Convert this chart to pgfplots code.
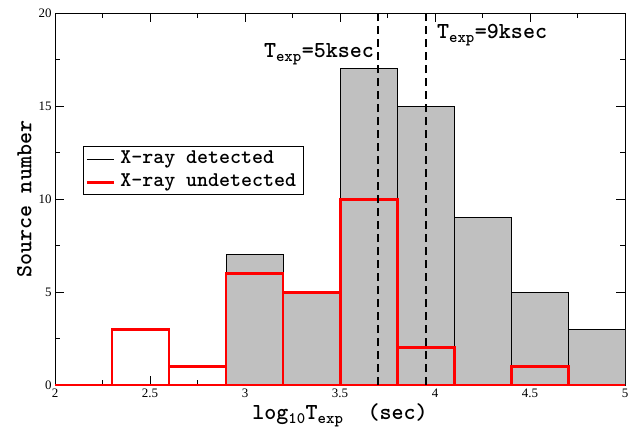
\documentclass[border=0pt]{standalone}
\usepackage{pgfplots}
\pgfplotsset{compat=1.18}
\usepackage{fontspec}
\setmainfont{Liberation Serif}
\definecolor{fillgray}{RGB}{192,192,192}
\definecolor{histred}{RGB}{255,0,0}
\newcommand{\labfont}{\ttfamily\bfseries\fontsize{23}{26}\selectfont}
\newcommand{\legfont}{\ttfamily\bfseries\fontsize{21}{24}\selectfont}

\begin{document}
\begin{tikzpicture}
\begin{axis}[
    scale only axis,
    width=570bp,
    height=372bp,
    xmin=2, xmax=5,
    ymin=0, ymax=20,
    xtick={2,2.5,3,3.5,4,4.5,5},
    ytick={0,5,10,15,20},
    minor x tick num=1,
    minor y tick num=1,
    tick align=inside,
    major tick length=9bp,
    minor tick length=5bp,
    tick style={black, line width=0.8pt},
    axis line style={line width=0.8pt},
    /pgf/number format/assume math mode=true,
    ticklabel style={font=\fontsize{13}{15}\selectfont},
    xlabel={log\textsubscript{10}T\textsubscript{exp}~~(sec)},
    ylabel={Source number},
    label style={font=\labfont},
    legend style={at={(rel axis cs:0.049,0.642)}, anchor=north west,
        draw=black, line width=0.8pt, inner xsep=2bp, inner ysep=1bp,
        nodes={text height=14bp, text depth=5bp, inner ysep=2bp, inner xsep=5bp},
        font=\legfont},
    legend cell align=left,
]
% X-ray detected
\addplot[ybar interval, fill=fillgray, draw=black, line width=1pt,
    legend image code/.code={\draw[black, line width=1pt] (0bp,0bp) -- (27bp,0bp);}]
    coordinates {(2.9,7) (3.2,5) (3.5,17) (3.8,15) (4.1,9) (4.4,5) (4.7,3) (5.0,0)};
\addlegendentry{X-ray detected}
% X-ray undetected
\addplot[ybar interval, fill=none, draw=histred, line width=3pt,
    legend image code/.code={\draw[histred, line width=3pt] (0bp,0bp) -- (27bp,0bp);}]
    coordinates {(2.0,0) (2.3,3) (2.6,1) (2.9,6) (3.2,5) (3.5,10) (3.8,2) (4.1,0) (4.4,1) (4.7,0) (5.0,0)};
\addlegendentry{X-ray undetected}
% exposure times
\addplot[forget plot, black, line width=1.6pt, dash pattern=on 8bp off 5bp]
    coordinates {(3.699,0) (3.699,20)};
\addplot[forget plot, black, line width=1.6pt, dash pattern=on 8bp off 5bp]
    coordinates {(3.954,0) (3.954,20)};
\node[anchor=east, font=\labfont, inner sep=0pt]
    at (axis cs:3.68,17.8) {T\textsubscript{exp}=5ksec};
\node[anchor=west, font=\labfont, inner sep=0pt]
    at (axis cs:4.01,18.8) {T\textsubscript{exp}=9ksec};
\coordinate (bl) at (rel axis cs:-0.0965,-0.137);
\coordinate (tr) at (rel axis cs:1.0228,1.035);
\end{axis}
\pgfresetboundingbox
\path (bl) rectangle (tr);
\end{tikzpicture}
\end{document}
